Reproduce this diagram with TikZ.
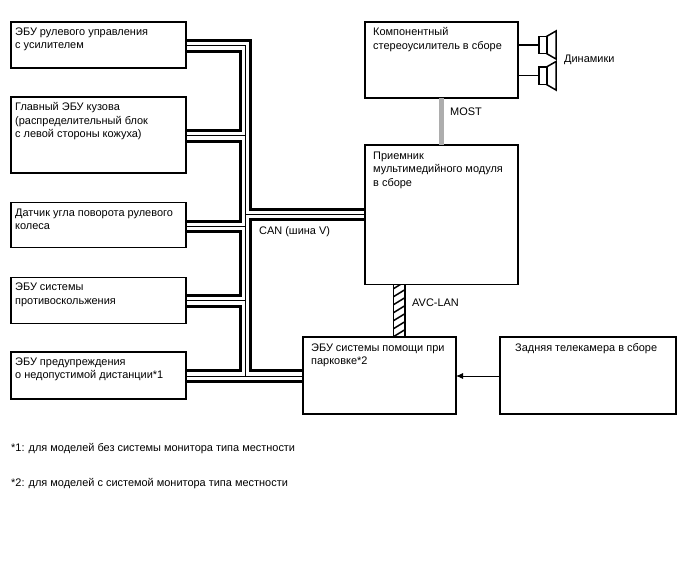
\documentclass[tikz,border=0pt]{standalone}
\usepackage{fontspec}
\usetikzlibrary{arrows.meta}
\setmainfont{Liberation Sans}
\begin{document}
\begin{tikzpicture}[x=1pt,y=-1pt,
  box/.style={draw=black,line width=1.5pt,fill=white,minimum width=0pt,minimum height=0pt,inner sep=0pt,outer sep=0pt},
  lbl/.style={anchor=north west,inner sep=0pt,align=left,font=\fontsize{10.95}{13.4}\selectfont},
  txt/.style={anchor=west,inner sep=0pt,font=\fontsize{10.95}{13.4}\selectfont},
  busthick/.style={line width=3pt,line join=miter},
  busthin/.style={line width=1pt},
  thinlink/.style={line width=1.2pt},
  spk/.style={line width=1.5pt,fill=white,line join=miter}]
\useasboundingbox (0,0) rectangle (688,560);
\fill[white] (0,0) rectangle (688,560);
% boxes
\node[box,minimum width=175pt,minimum height=46pt,anchor=north west] (b1) at (11,22) {};
\node[box,minimum width=175pt,minimum height=76pt,anchor=north west] (b2) at (11,97) {};
\node[box,minimum width=175pt,minimum height=45pt,anchor=north west] (b3) at (11,202.5) {};
\node[box,minimum width=175pt,minimum height=46pt,anchor=north west] (b4) at (11,277.5) {};
\node[box,minimum width=175pt,minimum height=47pt,anchor=north west] (b5) at (11,352) {};
\node[box,minimum width=153pt,minimum height=76pt,anchor=north west] (amp) at (365,22) {};
\node[box,minimum width=153pt,minimum height=139.5pt,anchor=north west] (rcv) at (365,145) {};
\node[box,minimum width=153pt,minimum height=77pt,anchor=north west] (park) at (303,337) {};
\node[box,minimum width=176pt,minimum height=77pt,anchor=north west] (cam) at (500,337) {};
% bundle corner coordinates
\coordinate (vo) at (250,0);
\coordinate (vm) at (245.5,0);
\coordinate (vi) at (240,0);
% thin wires
\draw[busthin] (b1.east |- 0,45) -| (vm |- 0,376);
\draw[busthin] (b2.east |- 0,135) -- (vm |- 0,135);
\draw[busthin] (b3.east |- 0,226) -- (vm |- 0,226);
\draw[busthin] (b4.east |- 0,300.5) -- (vm |- 0,300.5);
\draw[busthin] (b5.east |- 0,376) -- (park.west |- 0,376);
\draw[busthin] (vm |- 0,214) -- (rcv.west |- 0,214);
% thick wires
\draw[busthick] (b1.east |- 0,40.5) -| (vo |- 0,209) -- (rcv.west |- 0,209);
\draw[busthick] (rcv.west |- 0,219.5) -| (vo |- 0,370.5) -- (park.west |- 0,370.5);
\draw[busthick] (b1.east |- 0,51) -| (vi |- 0,130) -- (b2.east |- 0,130);
\draw[busthick] (b2.east |- 0,141) -| (vi |- 0,221) -- (b3.east |- 0,221);
\draw[busthick] (b3.east |- 0,231.5) -| (vi |- 0,295) -- (b4.east |- 0,295);
\draw[busthick] (b4.east |- 0,306) -| (vi |- 0,370.5) -- (b5.east |- 0,370.5);
\draw[busthick] (b5.east |- 0,381) -- (park.west |- 0,381);
% MOST
\draw[line width=5pt,draw=black!32] (amp.south -| 441.5,0) -- (rcv.north -| 441.5,0);
% AVC-LAN
\begin{scope}
\clip (393.5,285) rectangle (405,336.5);
\foreach \yy in {284,292,...,348}
  \draw[line width=1.5pt] (393,\yy+5) -- (406,\yy-3);
\end{scope}
\coordinate (avcl) at (393.5,0);
\coordinate (avcr) at (405,0);
\draw[line width=1.5pt] (rcv.south -| avcl) -- (park.north -| avcl);
\draw[line width=1.5pt] (rcv.south -| avcr) -- (park.north -| avcr);
% redraw box outlines over wires
\draw[line width=1.5pt] (b1.north east) -- (b1.south east);
\draw[line width=1.5pt] (b2.north east) -- (b2.south east);
\draw[line width=1.5pt] (b3.north east) -- (b3.south east);
\draw[line width=1.5pt] (b4.north east) -- (b4.south east);
\draw[line width=1.5pt] (b5.north east) -- (b5.south east);
% camera arrow
\draw[line width=0.9pt,-{Latex[length=7pt,width=6pt]}] (cam.west |- 0,376) -- (park.east |- 0,376);
% speakers
\draw[spk] (546.5,36.5) -- (556,31) -- (556,59) -- (546.5,53.5) -- cycle;
\node[draw=black,line width=1.5pt,fill=white,inner sep=0pt,outer sep=0pt,minimum width=8pt,minimum height=17pt,anchor=north west] (s1) at (539,36.5) {};
\draw[spk] (546.5,67) -- (556,61.5) -- (556,90) -- (546.5,84.5) -- cycle;
\node[draw=black,line width=1.5pt,fill=white,inner sep=0pt,outer sep=0pt,minimum width=8pt,minimum height=17.5pt,anchor=north west] (s2) at (539,67) {};
\draw[thinlink] (amp.east |- s1.west) -- (s1.west);
\draw[thinlink] (amp.east |- s2.west) -- (s2.west);
% labels
\node[lbl] (t1) at (15,27.5) {ЭБУ рулевого управления\\с усилителем};
\node[lbl] (t2) at (15,102.5) {Главный ЭБУ кузова\\(распределительный блок\\с левой стороны кожуха)};
\node[lbl] (t3) at (15,208.5) {Датчик угла поворота рулевого\\колеса};
\node[lbl] (t4) at (15,283) {ЭБУ системы\\противоскольжения};
\node[lbl] (t5) at (15,357.5) {ЭБУ предупреждения\\о недопустимой дистанции*1};
\node[lbl] (t6) at (373,27.5) {Компонентный\\стереоусилитель в сборе};
\node[lbl] (t7) at (373,151.5) {Приемник\\мультимедийного модуля\\в сборе};
\node[lbl] (t8) at (311,343.5) {ЭБУ системы помощи при\\парковке*2};
\node[lbl] (t9) at (515,343.5) {Задняя телекамера в сборе};
\node[txt] (l1) at (564,60) {Динамики};
\node[txt] (l2) at (450,112) {MOST};
\node[txt] (l3) at (259,232) {CAN (шина V)};
\node[txt] (l4) at (412,303) {AVC-LAN};
\node[txt] (f1) at (11,449) {*1: для моделей без системы монитора типа местности};
\node[txt] (f2) at (11,484) {*2: для моделей с системой монитора типа местности};
\end{tikzpicture}
\end{document}
